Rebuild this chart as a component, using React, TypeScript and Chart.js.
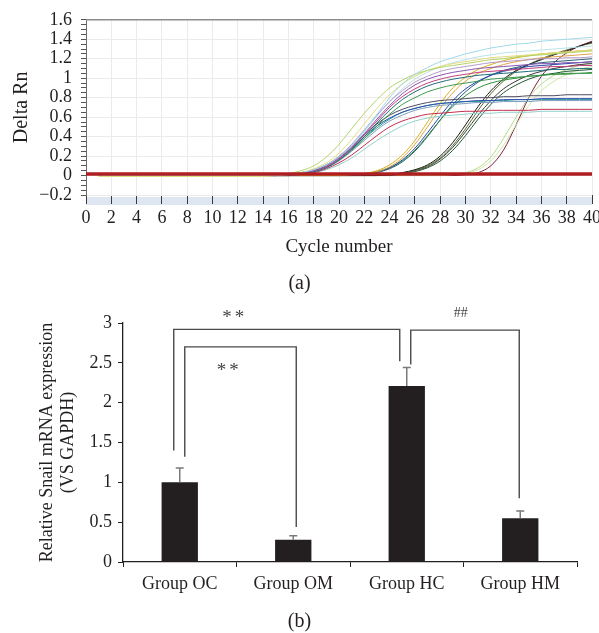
import React, { useEffect, useRef } from 'react';
import { Chart, registerables } from 'chart.js';
Chart.register(...registerables);

const SERIF = '"Liberation Serif", "Times New Roman", serif';
const INK = '#231f20';

// ---------- Panel (a): amplification plot ----------
const cycles = [1, 14, 15, 16, 17, 18, 19, 20, 21, 22, 23, 24, 25, 26, 27, 28, 29, 30, 31, 32, 33, 34, 35, 36, 37, 38, 39, 40];

const earlyHighCurves = [
  [0, 0, 0, 0.01, 0.03, 0.06, 0.11, 0.19, 0.31, 0.46, 0.63, 0.8, 0.94, 1.04, 1.11, 1.17, 1.21, 1.25, 1.28, 1.31, 1.33, 1.35, 1.36, 1.38, 1.39, 1.4, 1.41, 1.42],
  [0, 0, 0.01, 0.02, 0.05, 0.1, 0.19, 0.32, 0.48, 0.64, 0.78, 0.9, 0.98, 1.04, 1.08, 1.11, 1.13, 1.15, 1.17, 1.19, 1.2, 1.22, 1.23, 1.24, 1.25, 1.26, 1.27, 1.28],
  [-0.01, -0.01, 0, 0.01, 0.03, 0.07, 0.13, 0.23, 0.37, 0.53, 0.69, 0.83, 0.94, 1.02, 1.08, 1.12, 1.15, 1.17, 1.19, 1.21, 1.22, 1.23, 1.24, 1.25, 1.26, 1.27, 1.28, 1.29],
  [0, 0, 0, 0.01, 0.02, 0.05, 0.1, 0.18, 0.29, 0.43, 0.58, 0.72, 0.84, 0.93, 0.99, 1.03, 1.06, 1.08, 1.1, 1.11, 1.12, 1.13, 1.14, 1.15, 1.15, 1.16, 1.16, 1.17],
  [0, 0, 0, 0.01, 0.02, 0.05, 0.09, 0.17, 0.28, 0.42, 0.56, 0.7, 0.81, 0.89, 0.95, 0.99, 1.02, 1.04, 1.06, 1.07, 1.08, 1.09, 1.1, 1.11, 1.12, 1.12, 1.13, 1.13],
  [0, 0, 0, 0, 0.02, 0.04, 0.08, 0.16, 0.27, 0.4, 0.54, 0.67, 0.78, 0.86, 0.92, 0.96, 0.99, 1.01, 1.03, 1.04, 1.05, 1.06, 1.07, 1.08, 1.09, 1.09, 1.1, 1.1],
  [0, 0, 0, 0.01, 0.02, 0.05, 0.09, 0.16, 0.26, 0.38, 0.51, 0.63, 0.73, 0.8, 0.86, 0.9, 0.93, 0.95, 0.97, 0.99, 1.0, 1.01, 1.02, 1.03, 1.04, 1.04, 1.05, 1.05],
  [0, 0, 0, 0.01, 0.03, 0.06, 0.11, 0.2, 0.32, 0.47, 0.62, 0.76, 0.87, 0.96, 1.02, 1.07, 1.1, 1.12, 1.14, 1.16, 1.17, 1.18, 1.19, 1.2, 1.2, 1.21, 1.21, 1.22],
  [0, 0, 0, 0.01, 0.02, 0.05, 0.1, 0.18, 0.3, 0.45, 0.61, 0.76, 0.89, 0.99, 1.06, 1.12, 1.16, 1.19, 1.22, 1.24, 1.26, 1.27, 1.28, 1.29, 1.3, 1.31, 1.32, 1.33],
];

const earlyLowCurves = [
  [0, 0, 0, 0.01, 0.03, 0.06, 0.11, 0.19, 0.3, 0.42, 0.53, 0.62, 0.68, 0.72, 0.75, 0.77, 0.78, 0.79, 0.8, 0.8, 0.81, 0.81, 0.82, 0.82, 0.82, 0.83, 0.83, 0.83],
  [0, 0, 0, 0.01, 0.02, 0.05, 0.1, 0.18, 0.28, 0.4, 0.51, 0.59, 0.65, 0.69, 0.72, 0.74, 0.75, 0.76, 0.77, 0.77, 0.78, 0.78, 0.78, 0.79, 0.79, 0.79, 0.79, 0.79],
  [0, 0, 0, 0, 0.02, 0.04, 0.08, 0.15, 0.25, 0.36, 0.47, 0.56, 0.62, 0.67, 0.7, 0.72, 0.73, 0.74, 0.75, 0.75, 0.76, 0.76, 0.76, 0.77, 0.77, 0.77, 0.77, 0.77],
  [0, 0, 0, 0, 0.01, 0.03, 0.07, 0.13, 0.21, 0.31, 0.41, 0.5, 0.56, 0.6, 0.63, 0.64, 0.65, 0.66, 0.66, 0.67, 0.67, 0.67, 0.67, 0.68, 0.68, 0.68, 0.68, 0.68],
  [0, 0, 0, 0, 0.01, 0.03, 0.06, 0.11, 0.18, 0.27, 0.36, 0.44, 0.51, 0.56, 0.59, 0.61, 0.62, 0.63, 0.64, 0.64, 0.65, 0.65, 0.65, 0.66, 0.66, 0.66, 0.66, 0.66],
  [0, 0, 0, 0.01, 0.02, 0.04, 0.09, 0.16, 0.26, 0.38, 0.49, 0.58, 0.65, 0.69, 0.72, 0.74, 0.75, 0.76, 0.76, 0.77, 0.77, 0.78, 0.78, 0.78, 0.78, 0.78, 0.78, 0.78],
];

const midCurves = [
  [0, 0, 0, 0, 0, 0, 0, 0, 0.01, 0.02, 0.05, 0.11, 0.21, 0.36, 0.55, 0.74, 0.9, 1.01, 1.09, 1.14, 1.18, 1.21, 1.23, 1.25, 1.26, 1.27, 1.28, 1.29],
  [0, 0, 0, 0, 0, 0, 0, 0, 0.01, 0.02, 0.04, 0.09, 0.18, 0.32, 0.5, 0.69, 0.85, 0.97, 1.05, 1.1, 1.14, 1.17, 1.19, 1.21, 1.22, 1.23, 1.24, 1.25],
  [0, 0, 0, 0, 0, 0, 0, 0, 0.01, 0.02, 0.04, 0.08, 0.16, 0.28, 0.44, 0.61, 0.77, 0.89, 0.97, 1.03, 1.07, 1.1, 1.12, 1.13, 1.14, 1.15, 1.16, 1.17],
  [0, 0, 0, 0, 0, 0, 0, 0, 0.01, 0.02, 0.04, 0.08, 0.15, 0.26, 0.41, 0.57, 0.71, 0.82, 0.9, 0.95, 0.98, 1.0, 1.02, 1.03, 1.04, 1.05, 1.05, 1.06],
  [0, 0, 0, 0, 0, 0, 0, 0, 0, 0.01, 0.03, 0.07, 0.14, 0.25, 0.4, 0.57, 0.73, 0.86, 0.96, 1.03, 1.08, 1.11, 1.14, 1.16, 1.17, 1.18, 1.19, 1.2],
];

const lateCurves = [
  [0, 0, 0, 0, 0, 0, 0, 0, 0, 0, 0, 0.01, 0.03, 0.06, 0.11, 0.2, 0.34, 0.52, 0.71, 0.87, 0.99, 1.08, 1.14, 1.19, 1.24, 1.28, 1.33, 1.37],
  [0, 0, 0, 0, 0, 0, 0, 0, 0, 0, 0, 0.01, 0.02, 0.05, 0.1, 0.18, 0.31, 0.48, 0.67, 0.84, 0.97, 1.07, 1.14, 1.2, 1.25, 1.29, 1.33, 1.36],
  [0, 0, 0, 0, 0, 0, 0, 0, 0, 0, 0, 0.01, 0.02, 0.05, 0.09, 0.17, 0.29, 0.45, 0.62, 0.77, 0.89, 0.97, 1.03, 1.07, 1.1, 1.12, 1.14, 1.15],
  [0, 0, 0, 0, 0, 0, 0, 0, 0, 0, 0, 0, 0.02, 0.04, 0.08, 0.15, 0.26, 0.41, 0.58, 0.73, 0.85, 0.93, 0.99, 1.03, 1.05, 1.07, 1.08, 1.09],
];

const lastCurves = [
  [0, 0, 0, 0, 0, 0, 0, 0, 0, 0, 0, 0, 0, 0, 0, 0, 0.01, 0.03, 0.08, 0.19, 0.38, 0.6, 0.8, 0.94, 1.03, 1.09, 1.13, 1.16],
  [0, 0, 0, 0, 0, 0, 0, 0, 0, 0, 0, 0, 0, 0, 0, 0, 0.01, 0.02, 0.06, 0.15, 0.31, 0.52, 0.72, 0.87, 0.97, 1.04, 1.09, 1.12],
  [0, 0, 0, 0, 0, 0, 0, 0, 0, 0, 0, 0, 0, 0, 0, 0, 0, 0.01, 0.03, 0.1, 0.26, 0.52, 0.8, 1.02, 1.16, 1.26, 1.33, 1.38],
];

const thresholdLevel = 0.015;

// ---------- Panel (b): bar chart ----------
const groups = ['Group OC', 'Group OM', 'Group HC', 'Group HM'];
const means = [1.0, 0.28, 2.21, 0.55];
const errors = [0.18, 0.05, 0.23, 0.09];

const sigLabels = ['**', '**', '##'];
const sigFrom = [0, 0, 2];
const sigTo = [2, 1, 3];
const sigLeftEnd = [1.4, 1.32, 2.48];
const sigTop = [2.92, 2.7, 2.91];
const sigRightEnd = [2.52, 0.44, 0.8];

// ---------- styles ----------
const curveColors = [
  ['#9fd8e6', '#b4d46a', '#e3dc7e', '#8b55b0', '#c2407e', '#1f6e7a', '#3f9a4c', '#b39bc8', '#b9e2ea'],
  ['#4e4b60', '#2c4db5', '#7f9dc0', '#c22f4c', '#93d1cd', '#2b9c8c'],
  ['#d6b21a', '#e0a34a', '#2546a8', '#2f8f3b', '#2a5f7a'],
  ['#1b1b1b', '#5b6b2c', '#3a3a3a', '#1f5a33'],
  ['#b3da88', '#cde6a5', '#7b2142'],
];
const bracketLegDxL = [-6, 5, 4];
const bracketLegDxR = [-7, 3, -1];
const bracketLabelFrac = [0.27, 0.4, 0.46];
const bracketLabelDy = [-15, 20, -17];

const isMajorA = (v: number) => Math.abs(v * 5 - Math.round(v * 5)) < 1e-6;
const fmtA = (v: number) => {
  if (!isMajorA(v)) return '';
  const r = Math.round(v * 10) / 10;
  return r < 0 ? '\u2212' + String(-r) : String(r);
};

const frameA = {
  id: 'frameA',
  beforeDraw(chart: any) {
    const { ctx, chartArea: a } = chart;
    ctx.save();
    ctx.fillStyle = '#dde6f1';
    ctx.fillRect(a.left, a.bottom + 2, a.right - a.left, 8);
    ctx.restore();
  },
  afterDraw(chart: any) {
    const { ctx, chartArea: a } = chart;
    ctx.save();
    ctx.strokeStyle = '#8c8c8c';
    ctx.lineWidth = 1.5;
    ctx.beginPath();
    ctx.moveTo(a.left, a.top);
    ctx.lineTo(a.right, a.top);
    ctx.stroke();
    ctx.restore();
  },
};

const annotB = {
  id: 'annotB',
  afterDatasetsDraw(chart: any) {
    const { ctx } = chart;
    const x = chart.scales.x;
    const y = chart.scales.y;
    ctx.save();
    ctx.strokeStyle = '#7a7a7a';
    ctx.lineWidth = 1.5;
    means.forEach((m, i) => {
      const cx = x.getPixelForValue(i);
      const y0 = y.getPixelForValue(m);
      const y1 = y.getPixelForValue(m + errors[i]);
      ctx.beginPath();
      ctx.moveTo(cx, y0);
      ctx.lineTo(cx, y1);
      ctx.moveTo(cx - 4, y1);
      ctx.lineTo(cx + 4, y1);
      ctx.stroke();
    });
    ctx.strokeStyle = '#4a4a4a';
    ctx.lineWidth = 1.4;
    ctx.fillStyle = '#444';
    ctx.textAlign = 'center';
    ctx.textBaseline = 'middle';
    sigLabels.forEach((lab, k) => {
      const xl = x.getPixelForValue(sigFrom[k]) + bracketLegDxL[k];
      const xr = x.getPixelForValue(sigTo[k]) + bracketLegDxR[k];
      const yt = y.getPixelForValue(sigTop[k]);
      ctx.beginPath();
      ctx.moveTo(xl, y.getPixelForValue(sigLeftEnd[k]));
      ctx.lineTo(xl, yt);
      ctx.lineTo(xr, yt);
      ctx.lineTo(xr, y.getPixelForValue(sigRightEnd[k]));
      ctx.stroke();
      const isStar = lab.indexOf('*') >= 0;
      ctx.font = (isStar ? '19px ' : '14px ') + SERIF;
      (ctx as any).letterSpacing = isStar ? '3px' : '0px';
      ctx.fillText(lab, xl + (xr - xl) * bracketLabelFrac[k], yt + bracketLabelDy[k] + (isStar ? 4 : 0));
    });
    ctx.restore();
  },
};

function configA(): any {
  const datasets: any[] = [];
  [earlyHighCurves, earlyLowCurves, midCurves, lateCurves, lastCurves].forEach((g, gi) =>
    g.forEach((vals, ci) =>
      datasets.push({
        data: vals.map((v, k) => ({ x: cycles[k], y: v })),
        borderColor: curveColors[gi][ci],
        borderWidth: 1,
        pointRadius: 0,
        cubicInterpolationMode: 'monotone',
        fill: false,
        order: 1,
      })
    )
  );
  datasets.push({
    data: [
      { x: 0, y: thresholdLevel },
      { x: 40, y: thresholdLevel },
    ],
    borderColor: '#b01e22',
    borderWidth: 3.5,
    pointRadius: 0,
    fill: false,
    order: 0,
  });
  return {
    type: 'line',
    data: { datasets },
    plugins: [frameA],
    options: {
      animation: false,
      responsive: false,
      events: [],
      layout: { padding: { top: 14, right: 7, left: 0, bottom: 0 } },
      plugins: { legend: { display: false }, tooltip: { enabled: false } },
      scales: {
        x: {
          type: 'linear',
          min: 0,
          max: 40,
          ticks: {
            stepSize: 2,
            autoSkip: false,
            maxRotation: 0,
            padding: 3,
            color: INK,
            font: { family: SERIF, size: 18 },
            callback: (v: number) => String(v),
          },
          grid: { color: '#ebebeb', tickColor: '#3a3a3a', tickLength: 9, lineWidth: 1 },
          border: { display: false },
          title: {
            display: true,
            text: 'Cycle number',
            color: INK,
            font: { family: SERIF, size: 19 },
            padding: { top: 0, bottom: 42 },
          },
          afterFit: (s: any) => {
            s.height = 105;
            s.paddingLeft = 0;
            s.paddingRight = 0;
          },
        },
        y: {
          min: -0.2,
          max: 1.6,
          ticks: {
            stepSize: 0.05,
            autoSkip: false,
            maxTicksLimit: 100,
            padding: 9,
            color: INK,
            font: { family: SERIF, size: 18 },
            callback: (v: number) => fmtA(v),
          },
          grid: {
            color: (c: any) => (c.tick && isMajorA(c.tick.value) ? '#ebebeb' : 'rgba(0,0,0,0)'),
            tickColor: '#555',
            tickLength: 5,
          },
          border: { display: true, color: '#6b6b6b', width: 1 },
          title: {
            display: true,
            text: 'Delta Rn',
            color: INK,
            font: { family: SERIF, size: 20 },
            padding: { top: 10, bottom: 0 },
          },
          afterFit: (s: any) => {
            s.width = 86;
          },
        },
      },
    },
  };
}

function configB(): any {
  return {
    type: 'bar',
    data: {
      labels: groups,
      datasets: [
        {
          data: means,
          backgroundColor: INK,
          barPercentage: 0.32,
          categoryPercentage: 1,
        },
      ],
    },
    plugins: [annotB],
    options: {
      animation: false,
      responsive: false,
      events: [],
      layout: { padding: { top: 23, right: 22, left: 0, bottom: 0 } },
      plugins: { legend: { display: false }, tooltip: { enabled: false } },
      scales: {
        x: {
          ticks: { padding: 6, color: INK, font: { family: SERIF, size: 18 }, maxRotation: 0 },
          grid: { drawOnChartArea: false, tickLength: 5, tickColor: INK, offset: true },
          border: { color: INK, width: 1.3 },
          afterFit: (s: any) => {
            s.height = 71;
            s.paddingLeft = 0;
            s.paddingRight = 0;
          },
        },
        y: {
          min: 0,
          max: 3,
          ticks: {
            stepSize: 0.5,
            padding: 6,
            color: INK,
            font: { family: SERIF, size: 18 },
            callback: (v: number) => String(v),
          },
          grid: { drawOnChartArea: false, tickLength: 5, tickColor: INK },
          border: { color: INK, width: 1.3 },
          title: {
            display: true,
            text: ['Relative Snail mRNA expression', '(VS GAPDH)'],
            color: INK,
            font: { family: SERIF, size: 18, lineHeight: 1.2 },
            padding: { top: 36, bottom: 0 },
          },
          afterFit: (s: any) => {
            s.width = 123;
          },
        },
      },
    },
  };
}

export default function App() {
  const refA = useRef<HTMLCanvasElement>(null);
  const refB = useRef<HTMLCanvasElement>(null);
  useEffect(() => {
    const a = new Chart(refA.current as HTMLCanvasElement, configA());
    const b = new Chart(refB.current as HTMLCanvasElement, configB());
    return () => {
      a.destroy();
      b.destroy();
    };
  }, []);
  const cap: React.CSSProperties = {
    position: 'absolute',
    left: 0,
    width: 599,
    textAlign: 'center',
    fontSize: 20,
    lineHeight: '24px',
    fontFamily: SERIF,
    color: INK,
  };
  return (
    <div style={{ position: 'absolute', left: 0, top: 0, width: 599, height: 633, background: '#fff' }}>
      <canvas ref={refA} width={599} height={300} style={{ position: 'absolute', left: 0, top: 0 }} />
      <div style={{ ...cap, top: 270 }}>(a)</div>
      <canvas ref={refB} width={599} height={333} style={{ position: 'absolute', left: 0, top: 300 }} />
      <div style={{ ...cap, top: 608 }}>(b)</div>
    </div>
  );
}
